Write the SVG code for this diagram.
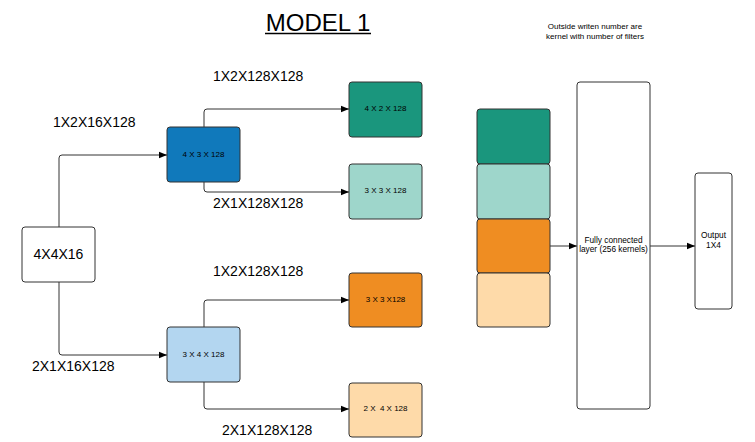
<svg xmlns="http://www.w3.org/2000/svg" width="755" height="442" viewBox="0 0 755 442">
<defs>
<marker id="arr" viewBox="0 0 10 10" refX="10" refY="5" markerWidth="8" markerHeight="8" markerUnits="userSpaceOnUse" orient="auto">
<path d="M0,1 L10,5 L0,9 Z" fill="#000"/>
</marker>
</defs>
<style>
text{font-family:"Liberation Sans",Arial,sans-serif;fill:#000}
.box{stroke:#333;stroke-width:1}
.lbl{font-size:14px}
.sm{font-size:8px;text-anchor:middle;fill:#000}
.con{fill:none;stroke:#333;stroke-width:1;marker-end:url(#arr)}
</style>
<rect width="755" height="442" fill="#fff"/>
<g id="title">
<text x="318" y="31" font-size="24" text-anchor="middle">MODEL 1</text>
<line x1="265" y1="33.5" x2="371" y2="33.5" stroke="#000" stroke-width="1.3"/>
</g>
<g id="note">
<text x="595" y="29" class="sm">Outside writen number are</text>
<text x="595" y="39" class="sm">kernel with number of filters</text>
</g>
<g id="connectors">
<path class="con" d="M59,227 V158 Q59,155 62,155 H167"/>
<path class="con" d="M59,282 V352 Q59,355 62,355 H167"/>
<path class="con" d="M204,127 V112 Q204,109 207,109 H349"/>
<path class="con" d="M204,182 V189 Q204,192 207,192 H349"/>
<path class="con" d="M204,327 V303 Q204,300 207,300 H349"/>
<path class="con" d="M204,382 V406 Q204,409 207,409 H349"/>
<path class="con" d="M550,246 H577"/>
<path class="con" d="M650,246 H695"/>
</g>
<g id="labels" class="lbl">
<text x="213" y="81">1X2X128X128</text>
<text x="53" y="127">1X2X16X128</text>
<text x="213" y="208">2X1X128X128</text>
<text x="213" y="276">1X2X128X128</text>
<text x="32" y="371">2X1X16X128</text>
<text x="222" y="435">2X1X128X128</text>
</g>
<g id="input">
<rect class="box" x="22" y="227" width="73" height="55" rx="3" fill="#fff"/>
<text x="58.5" y="259" font-size="14" text-anchor="middle">4X4X16</text>
</g>
<g id="conv1a">
<rect class="box" x="167" y="127" width="73" height="55" rx="3" fill="#1079bb"/>
<text x="203.5" y="157" class="sm">4 X 3 X 128</text>
</g>
<g id="conv1b">
<rect class="box" x="167" y="327" width="73" height="55" rx="3" fill="#b3d6f0"/>
<text x="203.5" y="357" class="sm">3 X 4 X 128</text>
</g>
<g id="conv2a">
<rect class="box" x="349" y="82" width="73" height="55" rx="3" fill="#1a967d"/>
<text x="385.5" y="111" class="sm">4 X 2 X 128</text>
</g>
<g id="conv2b">
<rect class="box" x="349" y="164" width="73" height="55" rx="3" fill="#9ed6cb"/>
<text x="385.5" y="193" class="sm">3 X 3 X 128</text>
</g>
<g id="conv2c">
<rect class="box" x="349" y="273" width="73" height="54" rx="3" fill="#ef8d22"/>
<text x="385.5" y="302" class="sm">3 X 3 X128</text>
</g>
<g id="conv2d">
<rect class="box" x="349" y="383" width="73" height="54" rx="3" fill="#fedaa9"/>
<text x="385.5" y="411" class="sm" xml:space="preserve">2 X  4 X 128</text>
</g>
<g id="concat">
<rect class="box" x="477" y="109" width="73" height="55" rx="3" fill="#1a967d"/>
<rect class="box" x="477" y="164" width="73" height="55" rx="3" fill="#9ed6cb"/>
<rect class="box" x="477" y="219" width="73" height="54" rx="3" fill="#ef8d22"/>
<rect class="box" x="477" y="273" width="73" height="54" rx="3" fill="#fedaa9"/>
</g>
<g id="fc">
<rect class="box" x="577" y="82" width="73" height="327" rx="3" fill="#fff"/>
<text x="613.5" y="243" font-size="8.3" text-anchor="middle">Fully connected</text>
<text x="613.5" y="252" font-size="8.3" text-anchor="middle">layer (256 kernels)</text>
</g>
<g id="output">
<rect class="box" x="695" y="173" width="37" height="136" rx="3" fill="#fff"/>
<text x="713.5" y="238" font-size="8.3" text-anchor="middle">Output</text>
<text x="713.5" y="248" font-size="8.3" text-anchor="middle">1X4</text>
</g>
</svg>
